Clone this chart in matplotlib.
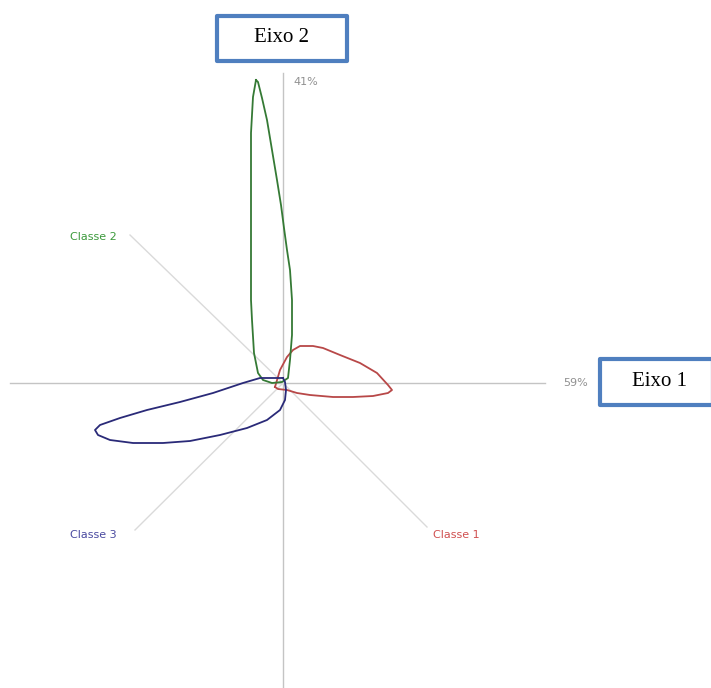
import numpy as np
import matplotlib

matplotlib.use("Agg")
import matplotlib.pyplot as plt
from matplotlib.patches import Rectangle

# class profile curves, origin at the axes crossing (pixel-like units)
classe2_x = [-27, -30, -32, -32, -32, -32, -31, -29, -25, -20, -11, -1, 5, 7, 9, 9, 7, 4, 1, -2, -6, -11, -16, -21, -25, -27]
classe2_y = [303, 286, 250, 183, 123, 83, 63, 30, 10, 3, 0, 1, 5, 23, 48, 83, 113, 133, 155, 178, 203, 233, 263, 285, 301, 303]

classe1_x = [-8, -3, 4, 10, 17, 30, 40, 57, 77, 94, 105, 109, 105, 90, 70, 50, 27, 14, 4, -5, -8]
classe1_y = [-4, 13, 26, 33, 37, 37, 35, 28, 20, 10, -2, -7, -10, -13, -14, -14, -12, -10, -7, -6, -4]

classe3_x = [0, -23, -40, -70, -103, -136, -163, -183, -188, -185, -173, -150, -120, -93, -63, -36, -16, -3, 2, 3, 2, 0]
classe3_y = [5, 5, 0, -10, -19, -27, -35, -42, -47, -52, -57, -60, -60, -58, -52, -45, -37, -27, -17, -7, 1, 5]

# direction of each class axis and label positions
class_names = ["Classe 1", "Classe 2", "Classe 3"]
class_dir_x = [144, -153, -148]
class_dir_y = [-144, 148, -147]
label_x = [150, -213, -213]
label_y = [-152, 146, -152]
label_colors = ["#d05050", "#3c9a3c", "#4a4aa0"]
line_colors = ["#b84848", "#357a35", "#2a2a78"]

axis_pct = ["59%", "41%"]

fig = plt.figure(figsize=(7.11, 6.88), dpi=100)
ax = fig.add_axes([0, 0, 1, 1])
ax.set_xlim(-283, 428)
ax.set_ylim(-305, 383)
ax.axis("off")

# main axes
ax.plot([-273, 262], [0, 0], color="#c4c4c4", lw=1)
ax.plot([0, 0], [-305, 310], color="#c4c4c4", lw=1)

# class direction lines
for dx, dy in zip(class_dir_x, class_dir_y):
    ax.plot([0, dx], [0, dy], color="#dadada", lw=1)

# curves
ax.plot(classe1_x, classe1_y, color=line_colors[0], lw=1.3)
ax.plot(classe2_x, classe2_y, color=line_colors[1], lw=1.3)
ax.plot(classe3_x, classe3_y, color=line_colors[2], lw=1.3)

for name, lx, ly, c in zip(class_names, label_x, label_y, label_colors):
    ax.text(lx, ly, name, color=c, fontsize=8, ha="left", va="center",
            family="DejaVu Sans")

ax.text(280, 0, axis_pct[0], color="#909090", fontsize=8, ha="left", va="center",
        family="DejaVu Sans")
ax.text(10, 301, axis_pct[1], color="#909090", fontsize=8, ha="left", va="center",
        family="DejaVu Sans")

# axis name boxes
box_kw = dict(facecolor="white", edgecolor="#4f7fbf", lw=3, joinstyle="round")
ax.add_patch(Rectangle((-66, 322), 130, 45, **box_kw))
ax.add_patch(Rectangle((317, -22), 113, 46, clip_on=False, **box_kw))
ax.text(-1, 345, "Eixo 2", fontsize=15, ha="center", va="center",
        family="Liberation Serif")
ax.text(377, 1, "Eixo 1", fontsize=15, ha="center", va="center",
        family="Liberation Serif")

fig.savefig("out.png", dpi=100)
